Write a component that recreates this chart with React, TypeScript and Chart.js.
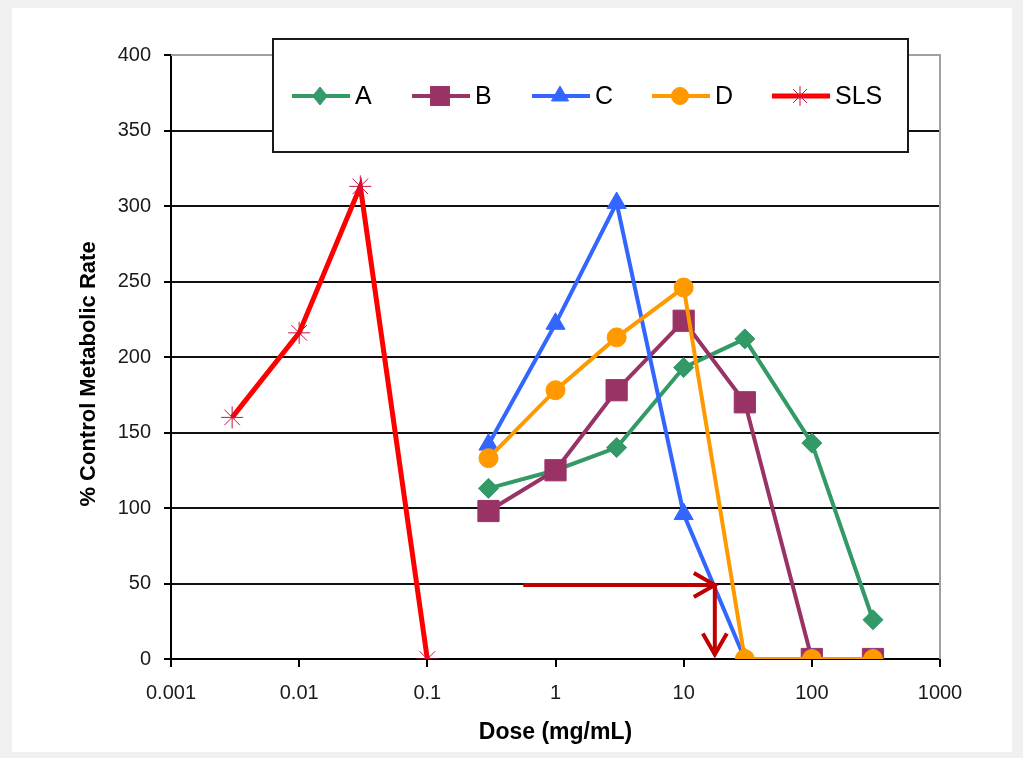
import React, { useEffect, useRef } from 'react';
import { Chart, registerables } from 'chart.js';

Chart.register(...registerables);

// ---- data ----
const doseABCD = [0.3, 1, 3, 10, 30, 100, 300];
const rateA = [113, 125, 140, 193, 212, 143, 26];
const rateB = [98, 125, 178, 224, 170, 0, 0];
const rateC = [142, 222, 302, 96, 0, 0, 0];
const rateD = [133, 178, 213, 246, 0, 0, 0];
const doseSLS = [0.003, 0.01, 0.03, 0.1];
const rateSLS = [160, 216, 313, 0];
const seriesNames = ['A', 'B', 'C', 'D', 'SLS'];
const xTickValues = [0.001, 0.01, 0.1, 1, 10, 100, 1000];
const xTickLabels = ['0.001', '0.01', '0.1', '1', '10', '100', '1000'];
const yMin = 0;
const yMax = 400;
const yStep = 50;
const xTitle = 'Dose (mg/mL)';
const yTitle = '% Control Metabolic Rate';
// annotation arrows (data coordinates)
const arrowDoseFrom = 0.56;
const arrowDoseTo = 17.5;
const arrowRateLevel = 49;
const arrowRateBottom = 3;

const FONT = "'Liberation Sans', Arial, sans-serif";

const toPoints = (xs: number[], ys: number[]) => xs.map((x, i) => ({ x, y: ys[i] }));

function drawMarker(ctx: CanvasRenderingContext2D, style: string, x: number, y: number, r: number, fill: string, stroke: string, bw: number) {
  ctx.save();
  ctx.fillStyle = fill;
  ctx.strokeStyle = stroke;
  ctx.lineWidth = bw;
  ctx.beginPath();
  if (style === 'rectRot') {
    ctx.moveTo(x, y - r);
    ctx.lineTo(x + r * 0.8, y);
    ctx.lineTo(x, y + r);
    ctx.lineTo(x - r * 0.8, y);
    ctx.closePath();
    ctx.fill();
    ctx.stroke();
  } else if (style === 'rect') {
    const s = Math.SQRT1_2 * r;
    ctx.rect(x - s, y - s, 2 * s, 2 * s);
    ctx.fill();
    ctx.stroke();
  } else if (style === 'triangle') {
    const w = r * Math.sin(Math.PI / 3);
    ctx.moveTo(x, y - r);
    ctx.lineTo(x + w, y + r / 2);
    ctx.lineTo(x - w, y + r / 2);
    ctx.closePath();
    ctx.fill();
    ctx.stroke();
  } else if (style === 'circle') {
    ctx.arc(x, y, r, 0, Math.PI * 2);
    ctx.fill();
    ctx.stroke();
  } else if (style === 'star') {
    for (let k = 0; k < 4; k++) {
      const a = (k * Math.PI) / 4;
      ctx.moveTo(x - Math.cos(a) * r, y - Math.sin(a) * r);
      ctx.lineTo(x + Math.cos(a) * r, y + Math.sin(a) * r);
    }
    ctx.stroke();
  }
  ctx.restore();
}

const backgroundPlugin = {
  id: 'bgFrame',
  beforeDraw(chart: any) {
    const { ctx, width, height } = chart;
    ctx.save();
    ctx.fillStyle = '#f0f0f0';
    ctx.fillRect(0, 0, width, height);
    ctx.fillStyle = '#ffffff';
    ctx.fillRect(12, 8, width - 23, height - 14);
    ctx.restore();
  },
};

const decorPlugin = {
  id: 'decor',
  afterDatasetsDraw(chart: any) {
    const { ctx, scales } = chart;
    const xs = scales.x;
    const ys = scales.y;
    const x1 = xs.getPixelForValue(arrowDoseFrom);
    const x2 = xs.getPixelForValue(arrowDoseTo);
    const yl = ys.getPixelForValue(arrowRateLevel);
    const yb = ys.getPixelForValue(arrowRateBottom);
    ctx.save();
    ctx.strokeStyle = '#c00000';
    ctx.lineWidth = 4;
    ctx.lineCap = 'butt';
    ctx.lineJoin = 'miter';
    // horizontal arrow
    ctx.beginPath();
    ctx.moveTo(x1, yl);
    ctx.lineTo(x2, yl);
    ctx.stroke();
    ctx.beginPath();
    ctx.moveTo(x2 - 21, yl - 12);
    ctx.lineTo(x2, yl);
    ctx.lineTo(x2 - 21, yl + 12);
    ctx.stroke();
    // vertical arrow
    ctx.beginPath();
    ctx.moveTo(x2, yl);
    ctx.lineTo(x2, yb);
    ctx.stroke();
    ctx.beginPath();
    ctx.moveTo(x2 - 12, yb - 21);
    ctx.lineTo(x2, yb);
    ctx.lineTo(x2 + 12, yb - 21);
    ctx.stroke();
    ctx.restore();
  },
  afterDraw(chart: any) {
    const { ctx, chartArea } = chart;
    const { left, right, top, bottom } = chartArea;
    ctx.save();
    // plot border top/right
    ctx.strokeStyle = '#a0a0a0';
    ctx.lineWidth = 2;
    ctx.beginPath();
    ctx.moveTo(left, top);
    ctx.lineTo(right, top);
    ctx.lineTo(right, bottom);
    ctx.stroke();

    // axis titles
    ctx.fillStyle = '#000';
    ctx.font = `bold 23px ${FONT}`;
    ctx.textAlign = 'center';
    ctx.textBaseline = 'middle';
    ctx.fillText(xTitle, (left + right) / 2, 733);
    ctx.save();
    ctx.font = `bold 22px ${FONT}`;
    ctx.translate(89, 374);
    ctx.rotate(-Math.PI / 2);
    ctx.fillText(yTitle, 0, 0);
    ctx.restore();

    // legend
    const lx = 273, ly = 39, lw = 635, lh = 113;
    ctx.fillStyle = '#ffffff';
    ctx.fillRect(lx, ly, lw, lh);
    ctx.strokeStyle = '#1a1a1a';
    ctx.lineWidth = 2;
    ctx.strokeRect(lx, ly, lw, lh);
    const cy = 96;
    chart.data.datasets.forEach((ds: any, i: number) => {
      const x0 = 292 + 120 * i;
      ctx.strokeStyle = ds.borderColor;
      ctx.lineWidth = ds.borderWidth;
      ctx.beginPath();
      ctx.moveTo(x0, cy);
      ctx.lineTo(x0 + 58, cy);
      ctx.stroke();
      drawMarker(ctx, ds.pointStyle, x0 + 28, cy, ds.pointRadius * 0.9, ds.pointBackgroundColor, ds.pointBorderColor, ds.pointBorderWidth);
      ctx.fillStyle = '#000';
      ctx.font = `25px ${FONT}`;
      ctx.textAlign = 'left';
      ctx.textBaseline = 'middle';
      ctx.fillText(ds.label, x0 + 63, cy + 1);
    });
    ctx.restore();
  },
};

export default function App() {
  const canvasRef = useRef<HTMLCanvasElement | null>(null);

  useEffect(() => {
    if (!canvasRef.current) return;
    const mk = (label: string, data: any[], color: string, style: string, radius: number, bw: number, pointBorder: string, pbw: number, order: number) => ({
      label,
      data,
      borderColor: color,
      backgroundColor: color,
      borderWidth: bw,
      pointStyle: style,
      pointRadius: radius,
      pointHoverRadius: radius,
      pointBackgroundColor: color,
      pointBorderColor: pointBorder,
      pointBorderWidth: pbw,
      tension: 0,
      fill: false,
      order,
    });
    const chart = new Chart(canvasRef.current, {
      type: 'line',
      data: {
        datasets: [
          mk(seriesNames[0], toPoints(doseABCD, rateA), '#339966', 'rectRot', 10, 4, '#339966', 1, 5),
          mk(seriesNames[1], toPoints(doseABCD, rateB), '#993366', 'rect', 15, 4, '#993366', 1, 4),
          mk(seriesNames[2], toPoints(doseABCD, rateC), '#3366ff', 'triangle', 11, 4, '#3366ff', 1, 3),
          mk(seriesNames[3], toPoints(doseABCD, rateD), '#ff9900', 'circle', 9.5, 4, '#ff9900', 1, 2),
          mk(seriesNames[4], toPoints(doseSLS, rateSLS), '#ff0000', 'star', 11, 5, '#cc1040', 1, 1),
        ] as any,
      },
      options: {
        animation: false,
        responsive: false,
        devicePixelRatio: 1,
        layout: { padding: { left: 0, top: 55, right: 83, bottom: 0 } },
        plugins: {
          legend: { display: false },
          tooltip: { enabled: false },
        },
        scales: {
          x: {
            type: 'logarithmic',
            position: 'bottom',
            min: 0.001,
            max: 1000,
            grid: {
              display: true,
              drawOnChartArea: false,
              drawTicks: true,
              tickLength: 8,
              color: '#000',
              lineWidth: 2,
            },
            border: { color: '#000', width: 2 },
            ticks: {
              autoSkip: false,
              maxRotation: 0,
              padding: 14,
              color: '#1a1a1a',
              font: { family: FONT, size: 20 },
              callback: (_v: any, i: number) => xTickLabels[i],
            },
            afterBuildTicks: (scale: any) => {
              scale.ticks = xTickValues.map((v) => ({ value: v }));
            },
            afterFit: (scale: any) => {
              scale.height = 99;
            },
          },
          y: {
            type: 'linear',
            min: yMin,
            max: yMax,
            grid: {
              color: (c: any) => (c.tick && c.tick.value === yMax ? '#a0a0a0' : '#111'),
              tickColor: '#000',
              lineWidth: 2,
              drawTicks: true,
              tickLength: 7,
            },
            border: { color: '#000', width: 2 },
            ticks: {
              stepSize: yStep,
              padding: 13,
              color: '#1a1a1a',
              font: { family: FONT, size: 20 },
            },
            afterFit: (scale: any) => {
              scale.width = 171;
            },
          },
        },
      } as any,
      plugins: [backgroundPlugin, decorPlugin],
    });
    return () => chart.destroy();
  }, []);

  return (
    <div style={{ position: 'absolute', left: 0, top: 0, width: 1023, height: 758 }}>
      <canvas ref={canvasRef} width={1023} height={758} style={{ display: 'block', width: 1023, height: 758 }} />
    </div>
  );
}
